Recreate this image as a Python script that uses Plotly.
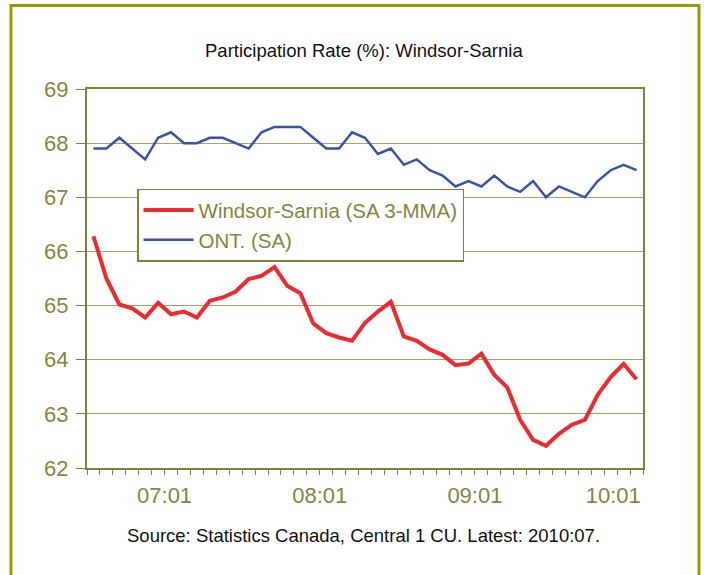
import pandas as pd
import plotly.graph_objects as go

# Monthly observations, 2007:01 through 2010:07
months = pd.period_range("2007-01", "2010-07", freq="M")
month_labels = [f"{p.year % 100:02d}:{p.month:02d}" for p in months]

windsor_sarnia = [
    66.28, 65.50, 65.02, 64.95, 64.78, 65.05, 64.84, 64.89, 64.78, 65.09,
    65.15, 65.26, 65.49, 65.55, 65.71, 65.36, 65.23, 64.67, 64.49, 64.41,
    64.35, 64.68, 64.89, 65.07, 64.43, 64.35, 64.19, 64.09, 63.90, 63.93,
    64.11, 63.72, 63.49, 62.89, 62.52, 62.41, 62.63, 62.80, 62.89, 63.35,
    63.68, 63.92, 63.64,
]
ontario = [
    67.9, 67.9, 68.1, 67.9, 67.7, 68.1, 68.2, 68.0, 68.0, 68.1,
    68.1, 68.0, 67.9, 68.2, 68.3, 68.3, 68.3, 68.1, 67.9, 67.9,
    68.2, 68.1, 67.8, 67.9, 67.6, 67.7, 67.5, 67.4, 67.2, 67.3,
    67.2, 67.4, 67.2, 67.1, 67.3, 67.0, 67.2, 67.1, 67.0, 67.3,
    67.5, 67.6, 67.5,
]
y_ticks = [62, 63, 64, 65, 66, 67, 68, 69]

OLIVE = "#80803a"
OLIVE_TEXT = "#85853f"
GRID = "#a3a36e"
FRAME = "#999900"
FONT = "Liberation Sans, Arial, sans-serif"

n = len(months)
x = list(range(n))

# January of each year starts a 12-month group; label sits in the group's middle
group_starts = [i for i, p in enumerate(months) if p.month == 1]
label_pos = [min(s + 5.5, n - 2.8) for s in group_starts]
label_txt = [month_labels[s] for s in group_starts]
boundaries = [i - 0.5 for i in range(n + 1)]

fig = go.Figure()
fig.add_trace(go.Scatter(
    x=x, y=windsor_sarnia, mode="lines", name="Windsor-Sarnia (SA 3-MMA)",
    line=dict(color="#ec2b30", width=4),
))
fig.add_trace(go.Scatter(
    x=x, y=ontario, mode="lines", name="ONT. (SA)",
    line=dict(color="#3a53a4", width=2.5),
))

fig.update_xaxes(
    range=[-0.5, n - 0.5],
    tickvals=label_pos, ticktext=label_txt, ticks="",
    tickfont=dict(family=FONT, size=22, color=OLIVE_TEXT),
    ticklabelstandoff=7,
    showgrid=False, zeroline=False,
    showline=True, linecolor=OLIVE, linewidth=2, mirror=True,
    minor=dict(tickvals=boundaries, ticks="outside", ticklen=5,
               tickcolor=OLIVE, tickwidth=1, showgrid=False),
)
fig.update_yaxes(
    range=[62, 69], tickvals=y_ticks,
    ticks="outside", ticklen=9, tickcolor=OLIVE, tickwidth=1,
    tickfont=dict(family=FONT, size=22, color=OLIVE_TEXT),
    ticklabelstandoff=3,
    showgrid=True, gridcolor=GRID, gridwidth=1, zeroline=False,
    showline=True, linecolor=OLIVE, linewidth=2, mirror=True,
)

shapes = []
# longer tick marks at the start of each year group
for s in group_starts + [0]:
    shapes.append(dict(
        type="line", xref="x", yref="y", x0=s - 0.5, x1=s - 0.5,
        ysizemode="pixel", yanchor=62, y0=0, y1=-9,
        line=dict(color=OLIVE, width=1),
    ))
# outer frame around the whole chart
shapes.append(dict(
    type="rect", xref="paper", yref="paper",
    x0=-0.1367, x1=1.1007, y0=-0.35, y1=1.2203,
    line=dict(color=FRAME, width=3), fillcolor="rgba(0,0,0,0)", layer="below",
))

fig.update_layout(
    width=704, height=575,
    margin=dict(l=87, r=61, t=89, b=107),
    paper_bgcolor="white", plot_bgcolor="white",
    showlegend=True,
    legend=dict(
        x=0.09, y=0.737, xanchor="left", yanchor="top",
        bgcolor="white", bordercolor=OLIVE, borderwidth=1.5,
        font=dict(family=FONT, size=20.5, color=OLIVE_TEXT),
        tracegroupgap=0, itemwidth=50,
    ),
    shapes=shapes,
    annotations=[
        dict(text="Participation Rate (%): Windsor-Sarnia",
             xref="paper", yref="paper", x=0.499, y=1.102,
             xanchor="center", yanchor="middle", showarrow=False,
             font=dict(family=FONT, size=18.5, color="#111111")),
        dict(text="Source: Statistics Canada, Central 1 CU. Latest: 2010:07.",
             xref="paper", yref="paper", x=0.498, y=-0.177,
             xanchor="center", yanchor="middle", showarrow=False,
             font=dict(family=FONT, size=18.5, color="#111111")),
    ],
)

fig.write_html("out.html")
